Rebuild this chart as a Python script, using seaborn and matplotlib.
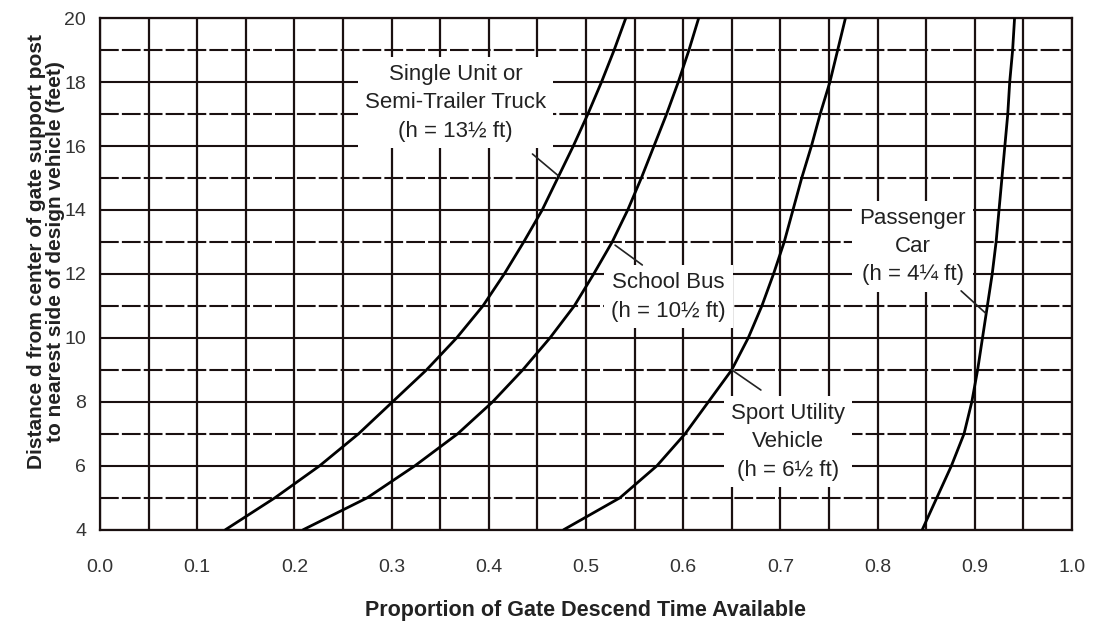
import pandas as pd
import seaborn as sns
import matplotlib.pyplot as plt
import matplotlib as mpl

# Distances d (feet) at which each curve was read
dist_truck = [4, 5, 6, 7, 8, 9, 10, 11, 12, 13, 14, 15, 16, 17, 18, 19, 20]
prop_truck = [0.129, 0.180, 0.226, 0.266, 0.301, 0.336, 0.367, 0.394, 0.416, 0.436,
              0.455, 0.471, 0.487, 0.502, 0.516, 0.529, 0.541]

dist_bus = [4, 5, 6, 7, 8, 9, 10, 11, 12, 13, 14, 15, 16, 17, 18, 19, 20]
prop_bus = [0.209, 0.275, 0.324, 0.368, 0.404, 0.435, 0.463, 0.488, 0.508, 0.527,
            0.543, 0.557, 0.570, 0.583, 0.595, 0.606, 0.616]

dist_suv = [4, 5, 6, 7, 8, 9, 10, 11, 12, 13, 14, 15, 16, 17, 18, 19, 20]
prop_suv = [0.477, 0.535, 0.573, 0.602, 0.626, 0.650, 0.667, 0.681, 0.693, 0.704,
            0.713, 0.722, 0.732, 0.741, 0.751, 0.759, 0.767]

dist_car = [4, 5, 6, 7, 8, 9, 10, 11, 12, 13, 14, 15, 16, 17, 18, 19, 20]
prop_car = [0.846, 0.861, 0.876, 0.889, 0.897, 0.903, 0.908, 0.913, 0.918, 0.922,
            0.925, 0.928, 0.931, 0.934, 0.936, 0.939, 0.941]

vehicles = ['Truck', 'School Bus', 'SUV', 'Passenger Car']
x_ticks = [0.0, 0.1, 0.2, 0.3, 0.4, 0.5, 0.6, 0.7, 0.8, 0.9, 1.0]
y_ticks = [4, 6, 8, 10, 12, 14, 16, 18, 20]

# Curve labels: text, text centre, leader line start/end
labels = [
    ('Single Unit or\nSemi-Trailer Truck\n(h = 13½ ft)', 0.366, 17.35, (0.445, 15.75), (0.472, 15.06)),
    ('School Bus\n(h = 10½ ft)', 0.585, 11.28, (0.530, 12.90), (0.558, 12.28)),
    ('Passenger\nCar\n(h = 4¼ ft)', 0.836, 12.85, (0.886, 11.47), (0.911, 10.78)),
    ('Sport Utility\nVehicle\n(h = 6½ ft)', 0.708, 6.75, (0.650, 9.00), (0.680, 8.37)),
]

frames = []
for name, xs, ys in zip(vehicles, [prop_truck, prop_bus, prop_suv, prop_car],
                        [dist_truck, dist_bus, dist_suv, dist_car]):
    frames.append(pd.DataFrame({'prop': xs, 'dist': ys, 'vehicle': name}))
df = pd.concat(frames, ignore_index=True)

sns.set_style('white')
mpl.rcParams['font.family'] = ['Liberation Sans', 'DejaVu Sans']

fig = plt.figure(figsize=(11.02, 6.24), dpi=100)
ax = fig.add_axes([0.0907, 0.151, 0.882, 0.820])

# Grid: solid verticals every 0.05, solid even / dashed odd horizontals
for xv in [i * 0.05 for i in range(21)]:
    ax.axvline(xv, color='#1a1010', lw=1.6, zorder=1)
for yv in range(4, 21):
    if yv % 2 == 0:
        ax.axhline(yv, color='#1a1010', lw=1.5, zorder=1)
    else:
        ax.axhline(yv, color='#1a1010', lw=1.5, zorder=1, dashes=(9, 1.5))

sns.lineplot(data=df, x='prop', y='dist', hue='vehicle', units='vehicle',
             estimator=None, sort=False, palette=['black'] * 4,
             linewidth=2.0, legend=False, ax=ax, zorder=3)

for text, tx, ty, p0, p1 in labels:
    ax.text(tx, ty, text, ha='center', va='center', fontsize=16, color='#222222',
            linespacing=1.45, zorder=4,
            bbox=dict(facecolor='white', edgecolor='none', pad=5))
    ax.plot([p0[0], p1[0]], [p0[1], p1[1]], color='#222222', lw=1.2, zorder=5)

ax.set_xlim(0, 1.0)
ax.set_ylim(4, 20)
ax.set_xticks(x_ticks)
ax.set_xticklabels([f'{v:.1f}' for v in x_ticks])
ax.set_yticks(y_ticks)
ax.tick_params(axis='both', direction='out', length=7, width=1.5, color='#1a1010',
               labelsize=14, labelcolor='#333333')
ax.tick_params(axis='x', pad=14)
ax.tick_params(axis='y', pad=3)
for s in ax.spines.values():
    s.set_color('#1a1010')
    s.set_linewidth(1.6)

ax.set_xlabel('Proportion of Gate Descend Time Available', fontsize=15.5,
              fontweight='bold', labelpad=17, color='#222222')
ax.set_ylabel('Distance d from center of gate support post\nto nearest side of design vehicle (feet)',
              fontsize=15, fontweight='bold', linespacing=1.0, color='#222222')
ax.yaxis.set_label_coords(-0.036, 0.543)

plt.savefig('out.png', dpi=100)
